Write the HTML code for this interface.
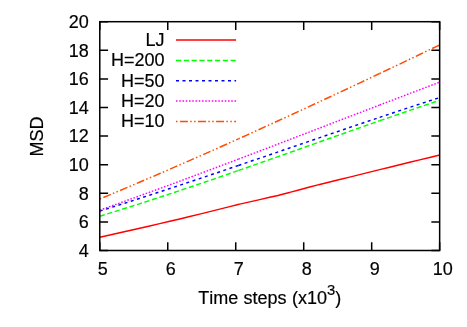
<!DOCTYPE html><html><head><meta charset="utf-8"><style>html,body{margin:0;padding:0;background:#fff}svg{display:block;will-change:transform}text{font-family:"Liberation Sans",sans-serif;font-size:18px;fill:#000;font-kerning:none;stroke:#000;stroke-width:0.18px}</style></head><body>
<svg width="467" height="327" viewBox="0 0 467 327">
<rect width="467" height="327" fill="#fff"/>
<polyline points="99.78,237.19 109.78,234.99 119.77,232.77 129.77,230.53 139.77,228.25 149.76,225.96 159.76,223.64 169.76,221.30 179.75,218.94 189.75,216.57 199.74,214.16 209.74,211.66 219.74,209.15 229.73,206.62 238.00,204.53 239.73,204.14 249.73,201.88 259.72,199.61 269.72,197.33 278.00,195.44 279.72,195.00 289.40,192.46 289.71,192.38 299.71,189.73 309.71,187.07 318.00,184.87 319.70,184.45 329.70,182.00 339.70,179.54 349.69,177.08 359.69,174.63 369.68,172.15 379.68,169.67 389.68,167.20 399.67,164.74 409.67,162.29 419.67,159.86 429.66,157.43 439.66,155.02" fill="none" stroke-width="1.45" stroke="#ff0000"/>
<polyline points="99.78,216.20 109.69,213.18 119.59,210.10 129.50,206.99 139.40,203.83 149.31,200.64 159.21,197.41 169.12,194.14 179.02,190.84 188.93,187.52 198.83,184.16 208.74,180.78 218.64,177.38 228.54,173.96 238.45,170.52" fill="none" stroke-width="1.45" stroke="#00ff00" stroke-dasharray="5.1 2.7"/>
<polyline points="238.45,170.52 248.54,167.00 258.62,163.46 268.71,159.92 278.79,156.36 288.88,152.80 298.96,149.23 309.05,145.66 319.14,142.09 329.22,138.52 339.31,134.96 349.39,131.40 359.48,127.85 369.56,124.32 379.65,120.80" fill="none" stroke-width="1.45" stroke="#00ff00" stroke-dasharray="5.1 2.7"/>
<polyline points="379.65,120.80 389.65,117.32 399.65,113.87 409.65,110.43 419.66,107.02 429.66,103.64 439.66,100.28" fill="none" stroke-width="1.45" stroke="#00ff00" stroke-dasharray="5.1 2.7"/>
<polyline points="99.78,211.07 109.69,207.96 119.59,204.83 129.50,201.66 139.40,198.47 149.31,195.26 159.21,192.02 169.12,188.76 179.02,185.48 188.93,182.18 198.83,178.86 208.74,175.53 218.64,172.19 228.54,168.83 238.45,165.46" fill="none" stroke-width="1.45" stroke="#0000ff" stroke-dasharray="3 3.5"/>
<polyline points="238.45,165.46 248.54,162.03 258.62,158.58 268.71,155.14 278.79,151.68 288.88,148.23 298.96,144.77 309.05,141.32 319.14,137.87 329.22,134.43 339.31,130.99 349.39,127.56 359.48,124.14 369.56,120.74 379.65,117.35" fill="none" stroke-width="1.45" stroke="#0000ff" stroke-dasharray="3 3.5"/>
<polyline points="379.65,117.35 389.65,114.00 399.65,110.67 409.65,107.35 419.66,104.06 429.66,100.79 439.66,97.55" fill="none" stroke-width="1.45" stroke="#0000ff" stroke-dasharray="3 3.5"/>
<polyline points="99.78,210.08 109.69,206.58 119.59,203.06 129.50,199.51 139.40,195.94 149.31,192.35 159.21,188.73 169.12,185.09 179.02,181.43 188.93,177.75 198.83,174.06 208.74,170.35 218.64,166.62 228.54,162.88 238.45,159.13" fill="none" stroke-width="1.45" stroke="#ff00ff" stroke-dasharray="1.55 1.7"/>
<polyline points="238.45,159.13 248.54,155.30 258.62,151.46 268.71,147.61 278.79,143.75 288.88,139.88 298.96,136.01 309.05,132.14 319.14,128.26 329.22,124.38 339.31,120.50 349.39,116.63 359.48,112.75 369.56,108.88 379.65,105.01" fill="none" stroke-width="1.45" stroke="#ff00ff" stroke-dasharray="1.55 1.7"/>
<polyline points="379.65,105.01 389.65,101.19 399.65,97.37 409.65,93.55 419.66,89.75 429.66,85.96 439.66,82.18" fill="none" stroke-width="1.45" stroke="#ff00ff" stroke-dasharray="1.55 1.7"/>
<polyline points="99.78,198.98 109.69,194.84 119.59,190.69 129.50,186.50 139.40,182.29 149.31,178.05 159.21,173.79 169.12,169.50 179.02,165.19 188.93,160.85 198.83,156.49 208.74,152.11 218.64,147.71 228.54,143.28 238.45,138.84" fill="none" stroke-width="1.45" stroke="#ff4d00" stroke-dasharray="8 2.3 1.5 2.4 1.5 2.4" stroke-dashoffset="14.2"/>
<polyline points="238.45,138.84 248.54,134.29 258.62,129.72 268.71,125.13 278.79,120.52 288.88,115.90 298.96,111.25 309.05,106.59 319.14,101.91 329.22,97.22 339.31,92.51 349.39,87.78 359.48,83.04 369.56,78.29 379.65,73.52" fill="none" stroke-width="1.45" stroke="#ff4d00" stroke-dasharray="8 2.3 1.5 2.4 1.5 2.4" stroke-dashoffset="14.2"/>
<polyline points="379.65,73.52 389.65,68.78 399.65,64.03 409.65,59.26 419.66,54.49 429.66,49.71 439.66,44.91" fill="none" stroke-width="1.45" stroke="#ff4d00" stroke-dasharray="8 2.3 1.5 2.4 1.5 2.4" stroke-dashoffset="14.2"/>
<line x1="176" y1="40.08" x2="236.1" y2="40.08" stroke-width="1.45" stroke="#ff0000"/>
<text x="164.6" y="45.879999999999995" text-anchor="end">LJ</text>
<line x1="176" y1="60.45" x2="236.1" y2="60.45" stroke-width="1.45" stroke="#00ff00" stroke-dasharray="5.1 2.7"/>
<text x="164.6" y="66.25" text-anchor="end">H=200</text>
<line x1="176" y1="80.7" x2="236.1" y2="80.7" stroke-width="1.45" stroke="#0000ff" stroke-dasharray="3 3.5"/>
<text x="164.6" y="86.5" text-anchor="end">H=50</text>
<line x1="176" y1="101.0" x2="236.1" y2="101.0" stroke-width="1.45" stroke="#ff00ff" stroke-dasharray="1.55 1.7"/>
<text x="164.6" y="106.8" text-anchor="end">H=20</text>
<line x1="176" y1="121.4" x2="236.1" y2="121.4" stroke-width="1.45" stroke="#ff4d00" stroke-dasharray="8 2.3 1.5 2.4 1.5 2.4" stroke-dashoffset="14.2"/>
<text x="164.6" y="127.2" text-anchor="end">H=10</text>
<text x="88.7" y="256.70" text-anchor="end">4</text>
<text x="88.7" y="228.10" text-anchor="end">6</text>
<text x="88.7" y="199.50" text-anchor="end">8</text>
<text x="88.7" y="170.90" text-anchor="end">10</text>
<text x="88.7" y="142.30" text-anchor="end">12</text>
<text x="88.7" y="113.70" text-anchor="end">14</text>
<text x="88.7" y="85.10" text-anchor="end">16</text>
<text x="88.7" y="56.50" text-anchor="end">18</text>
<text x="88.7" y="27.90" text-anchor="end">20</text>
<text x="102.78" y="275" text-anchor="middle">5</text>
<text x="170.76" y="275" text-anchor="middle">6</text>
<text x="238.73" y="275" text-anchor="middle">7</text>
<text x="306.71" y="275" text-anchor="middle">8</text>
<text x="374.68" y="275" text-anchor="middle">9</text>
<text x="442.66" y="275" text-anchor="middle">10</text>
<path d="M99.78,250.50h8.3M439.66,250.50h-8.3M99.78,221.90h8.3M439.66,221.90h-8.3M99.78,193.30h8.3M439.66,193.30h-8.3M99.78,164.70h8.3M439.66,164.70h-8.3M99.78,136.10h8.3M439.66,136.10h-8.3M99.78,107.50h8.3M439.66,107.50h-8.3M99.78,78.90h8.3M439.66,78.90h-8.3M99.78,50.30h8.3M439.66,50.30h-8.3M99.78,21.70h8.3M439.66,21.70h-8.3M99.78,250.5v-8.3M99.78,21.7v8.3M167.76,250.5v-8.3M167.76,21.7v8.3M235.73,250.5v-8.3M235.73,21.7v8.3M303.71,250.5v-8.3M303.71,21.7v8.3M371.68,250.5v-8.3M371.68,21.7v8.3M439.66,250.5v-8.3M439.66,21.7v8.3" stroke="#000" stroke-width="1.5" fill="none"/>
<rect x="99.78" y="21.7" width="339.88" height="228.8" fill="none" stroke="#000" stroke-width="1.5"/>
<text x="198.15" y="304">Time <tspan dx="0.3">steps</tspan> <tspan dx="0.6">(x10</tspan><tspan dy="-9.25" font-size="14.8px">3</tspan><tspan dy="9.25">)</tspan></text>
<text transform="translate(42.6,136.6) rotate(-90)" text-anchor="middle">MSD</text>
</svg></body></html>
